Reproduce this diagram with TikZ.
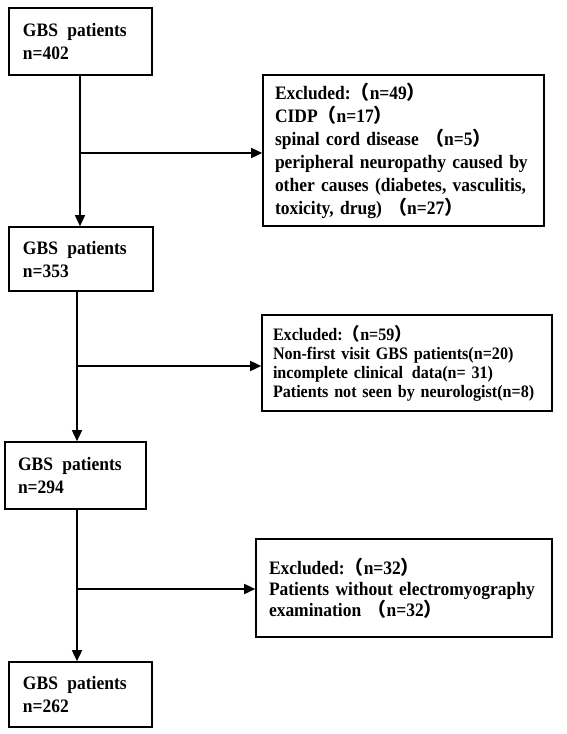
\documentclass[tikz,border=0pt]{standalone}
\usepackage{fontspec}
\setmainfont[FakeStretch=0.92]{Liberation Serif}
\newfontfamily\cjk{Noto Sans CJK SC}
\usetikzlibrary{arrows.meta}
\newcommand{\lpar}{{\cjk （}}
\newcommand{\rpar}{{\cjk ）}}
\begin{document}
\begin{tikzpicture}[x=1pt,y=-1pt,
  box/.style={draw, line width=1.6pt, rectangle, align=left,
    font=\fontsize{19}{23}\selectfont\bfseries, inner xsep=0pt, inner ysep=0pt},
  conn/.style={line width=1.5pt, -{Triangle[length=11pt,width=10pt]}},
]
\useasboundingbox[fill=white] (0,0) rectangle (566,734);

\node[box, minimum width=143pt, minimum height=67pt, text width=115pt] (b1) at (80.5,41.5)
  {GBS\enspace patients\\n=402};
\node[box, minimum width=144pt, minimum height=64pt, text width=116pt] (b2) at (81,259)
  {GBS\enspace patients\\n=353};
\node[box, minimum width=141pt, minimum height=67pt, text width=115pt] (b3) at (75.5,475.5)
  {GBS\enspace patients\\n=294};
\node[box, minimum width=143pt, minimum height=65pt, text width=115pt] (b4) at (80.5,694.5)
  {GBS\enspace patients\\n=262};

\node[box, minimum width=281pt, minimum height=151pt, text width=257pt] (e1) at (403.5,150.5)
  {Excluded:\lpar n=49\rpar\\
   CIDP\lpar n=17\rpar\\
   spinal cord disease \lpar n=5\rpar\\
   peripheral neuropathy caused by\\
   other causes (diabetes, vasculitis,\\
   toxicity, drug) \lpar n=27\rpar};
\node[box, font=\fontsize{17.5}{19}\selectfont\bfseries, minimum width=290pt, minimum height=96pt, text width=268pt] (e2) at (407,363)
  {Excluded:\lpar n=59\rpar\\
   Non-first visit GBS patients(n=20)\\
   incomplete clinical\enspace data(n= 31)\\
   Patients not seen by neurologist(n=8)};
\node[box, font=\fontsize{19}{21}\selectfont\bfseries, minimum width=296pt, minimum height=98pt, text width=270pt] (e3) at (404,588)
  {Excluded:\lpar n=32\rpar\\
   Patients without electromyography\\
   examination \lpar n=32\rpar};

\coordinate (j1) at (80,153);
\coordinate (j2) at (77,366);
\coordinate (j3) at (77,589);

\draw[conn] (b1.south -| j1) -- (b2.north -| j1);
\draw[conn] (j1) -- (j1 -| e1.west);
\draw[conn] (b2.south -| j2) -- (b3.north -| j2);
\draw[conn] (j2) -- (j2 -| e2.west);
\draw[conn] (b3.south -| j3) -- (b4.north -| j3);
\draw[conn] (j3) -- (j3 -| e3.west);
\end{tikzpicture}
\end{document}
